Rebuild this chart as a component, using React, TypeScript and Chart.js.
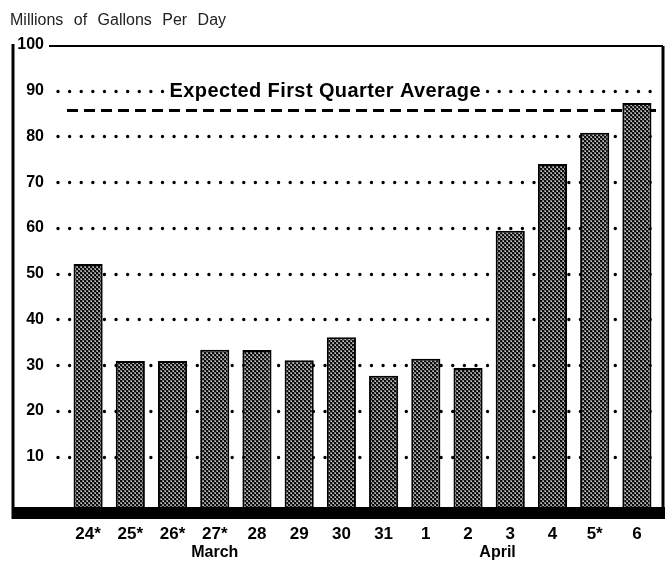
import React, { useEffect, useRef } from "react";
import { Chart, registerables } from "chart.js";

Chart.register(...registerables);

// ---- data ----
const days = ["24*", "25*", "26*", "27*", "28", "29", "30", "31", "1", "2", "3", "4", "5*", "6"];
const gallons = [52.1, 30.9, 30.9, 33.4, 33.3, 31.1, 36.1, 27.7, 31.4, 29.4, 59.4, 74.0, 80.8, 87.3];
const yTicks = [10, 20, 30, 40, 50, 60, 70, 80, 90, 100];
const expectedAverage = 85.7;
const expectedLabel = "Expected First Quarter Average";
const months = ["March", "April"];
const monthAt = [3, 9.7];
const axisTitle = "Millions of Gallons Per Day";

const FONT = "'Liberation Sans', Arial, Helvetica, sans-serif";

function makePattern(): CanvasPattern | string {
  const c = document.createElement("canvas");
  c.width = 4;
  c.height = 4;
  const g = c.getContext("2d");
  if (!g) return "#555";
  g.fillStyle = "#0c0c0c";
  g.fillRect(0, 0, 4, 4);
  g.fillStyle = "#7c7c7c";
  g.fillRect(2, 0, 2, 2);
  g.fillRect(0, 2, 2, 2);
  g.fillStyle = "#c8c8c8";
  g.fillRect(3, 1, 1, 1);
  g.fillRect(1, 3, 1, 1);
  const p = g.createPattern(c, "repeat");
  return p || "#555";
}

const decor = {
  id: "decor",
  beforeDatasetsDraw(chart: any) {
    const { ctx, chartArea, scales } = chart;
    const y = scales.y;
    ctx.save();
    // dotted gridlines
    ctx.strokeStyle = "#000";
    ctx.lineWidth = 3.4;
    ctx.lineCap = "round";
    ctx.setLineDash([0.01, 11.6]);
    for (const v of yTicks) {
      if (v >= 100) continue;
      const py = Math.round(y.getPixelForValue(v)) + 0.5;
      ctx.beginPath();
      ctx.moveTo(chartArea.left - 9, py);
      ctx.lineTo(chartArea.right + 3, py);
      ctx.stroke();
    }
    // dashed expected average line
    ctx.setLineDash([11, 6]);
    ctx.lineCap = "butt";
    ctx.lineWidth = 3;
    ctx.strokeStyle = "#000";
    const ay = y.getPixelForValue(expectedAverage);
    ctx.beginPath();
    ctx.moveTo(chartArea.left, ay);
    ctx.lineTo(chartArea.right + 5, ay);
    ctx.stroke();
    // expected label with white background
    ctx.setLineDash([]);
    ctx.font = `bold 20px ${FONT}`;
    try {
      (ctx as any).letterSpacing = "0.4px";
    } catch (e) {}
    const ly = y.getPixelForValue(90) + 1;
    const lx = scales.x.getPixelForValue(2) - 3;
    const w = ctx.measureText(expectedLabel).width;
    ctx.fillStyle = "#fff";
    ctx.fillRect(lx - 3, ly - 11, w + 6, 22);
    ctx.fillStyle = "#000";
    ctx.textBaseline = "middle";
    ctx.textAlign = "left";
    ctx.fillText(expectedLabel, lx, ly);
    try {
      (ctx as any).letterSpacing = "0px";
    } catch (e) {}
    ctx.restore();
  },
  afterDatasetsDraw(chart: any) {
    const { ctx, chartArea, scales } = chart;
    const x = scales.x;
    const y = scales.y;
    ctx.save();
    const left = y.left;
    const right = chartArea.right + 5;
    const top = y.getPixelForValue(100) + 1;
    const bandTop = chartArea.bottom;
    const bandBottom = chartArea.bottom + 12;
    // black base band
    ctx.fillStyle = "#000";
    ctx.fillRect(left, bandTop, right - left + 2, bandBottom - bandTop);
    // frame
    ctx.strokeStyle = "#000";
    ctx.lineWidth = 2;
    ctx.beginPath();
    ctx.moveTo(chartArea.left - 18, top);
    ctx.lineTo(right, top);
    ctx.stroke();
    ctx.lineWidth = 3;
    ctx.beginPath();
    ctx.moveTo(left + 1, top - 2);
    ctx.lineTo(left + 1, bandBottom);
    ctx.stroke();
    ctx.beginPath();
    ctx.moveTo(right, top);
    ctx.lineTo(right, bandBottom);
    ctx.stroke();
    // axis title
    ctx.fillStyle = "#222";
    ctx.font = `16px ${FONT}`;
    ctx.textAlign = "left";
    ctx.textBaseline = "middle";
    try {
      (ctx as any).wordSpacing = "6px";
    } catch (e) {}
    ctx.fillText(axisTitle, 10, 21);
    try {
      (ctx as any).wordSpacing = "0px";
    } catch (e) {}
    // month labels
    ctx.fillStyle = "#000";
    ctx.font = `bold 16px ${FONT}`;
    ctx.textAlign = "center";
    months.forEach((m, i) => {
      ctx.fillText(m, x.getPixelForValue(monthAt[i]), 553);
    });
    ctx.restore();
  },
};

export default function App() {
  const ref = useRef<HTMLCanvasElement | null>(null);
  useEffect(() => {
    if (!ref.current) return;
    const fill = makePattern();
    const chart = new Chart(ref.current, {
      type: "bar",
      data: {
        labels: days,
        datasets: [
          {
            data: gallons,
            base: -1,
            backgroundColor: fill as any,
            borderColor: "#000",
            borderWidth: 2,
            barPercentage: 0.69,
            categoryPercentage: 1,
          } as any,
        ],
      },
      options: {
        responsive: false,
        animation: false,
        layout: { padding: { left: 12, right: 8, top: 45, bottom: 0 } },
        plugins: { legend: { display: false }, tooltip: { enabled: false }, title: { display: false } },
        scales: {
          x: {
            grid: { display: false, drawTicks: false },
            border: { display: false },
            ticks: { color: "#000", font: { family: FONT, size: 17, weight: "bold" }, padding: 17, maxRotation: 0, autoSkip: false },
            afterFit: (s: any) => {
              s.height = 54;
            },
          },
          y: {
            min: -1,
            max: 100,
            grid: { display: false, drawTicks: false },
            border: { display: false },
            afterBuildTicks: (s: any) => {
              s.ticks = yTicks.map((v) => ({ value: v }));
            },
            ticks: { color: "#000", font: { family: FONT, size: 16, weight: "bold" }, padding: 23 },
            afterFit: (s: any) => {
              s.width = 55;
            },
          },
        },
      },
      plugins: [decor],
    });
    return () => chart.destroy();
  }, []);
  return (
    <div style={{ position: "absolute", left: 0, top: 0, width: 666, height: 561, background: "#fff" }}>
      <canvas ref={ref} width={666} height={561} />
    </div>
  );
}
